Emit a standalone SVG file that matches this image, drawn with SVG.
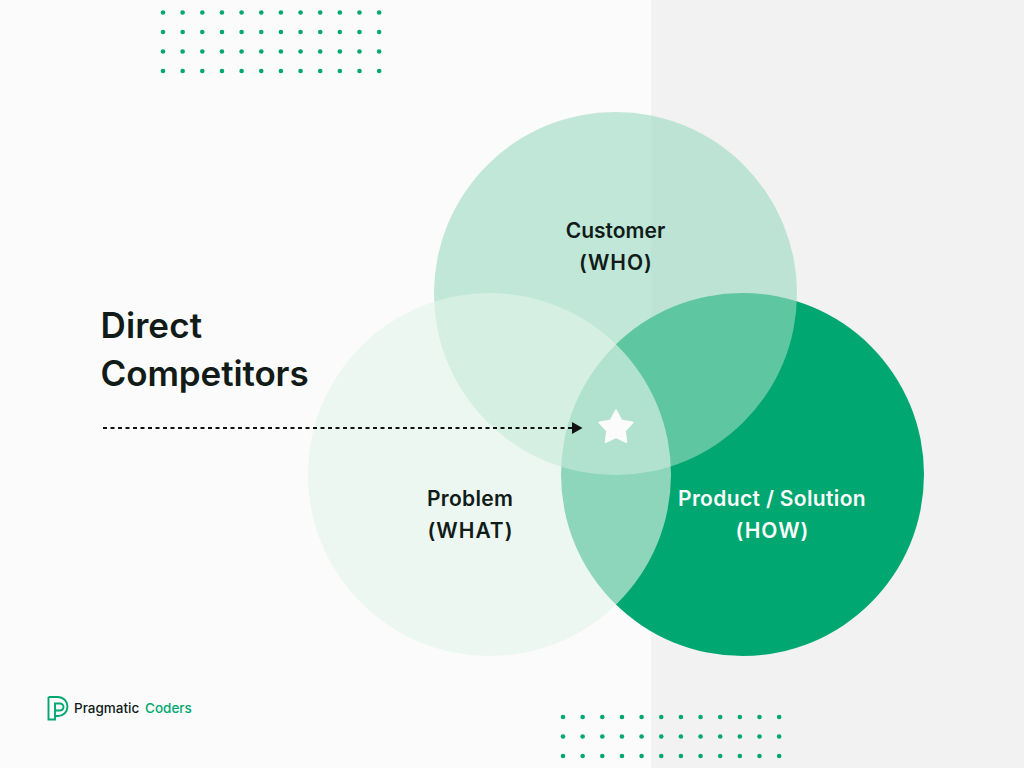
<svg xmlns="http://www.w3.org/2000/svg" xmlns:xlink="http://www.w3.org/1999/xlink" width="1024" height="768" viewBox="0 0 1024 768">
<style>
text{font-family:"Inter","Liberation Sans",sans-serif;}
.l{font-size:21px;font-weight:600;fill:#111c18;text-anchor:middle}
.p{letter-spacing:1px}
.w{fill:#fbfbfb}
.t{font-size:35px;font-weight:600;fill:#111c18}
.logo{font-size:13.5px;font-weight:500}
</style>
<defs>
<marker id="ah" markerUnits="userSpaceOnUse" markerWidth="11" markerHeight="12" refX="0" refY="6" orient="auto"><path d="M0 0L10.5 6L0 12Z" fill="#111"/></marker>
<g id="dotrow" fill="#00a771"><circle cx="0" r="2.3"/><circle cx="19.65" r="2.3"/><circle cx="39.3" r="2.3"/><circle cx="58.95" r="2.3"/><circle cx="78.6" r="2.3"/><circle cx="98.25" r="2.3"/><circle cx="117.9" r="2.3"/><circle cx="137.55" r="2.3"/><circle cx="157.2" r="2.3"/><circle cx="176.85" r="2.3"/><circle cx="196.5" r="2.3"/><circle cx="216.15" r="2.3"/></g>
</defs>
<rect width="1024" height="768" fill="#fbfbfb"/>
<rect x="651" width="373" height="768" fill="#f2f2f2"/>
<g id="dots-top">
<use xlink:href="#dotrow" x="163" y="12.5"/><use xlink:href="#dotrow" x="163" y="32"/><use xlink:href="#dotrow" x="163" y="51.5"/><use xlink:href="#dotrow" x="163" y="71"/>
</g>
<g id="dots-bottom">
<use xlink:href="#dotrow" x="563" y="717"/><use xlink:href="#dotrow" x="563" y="736.5"/><use xlink:href="#dotrow" x="563" y="756"/>
</g>
<g id="node-how"><circle cx="742.5" cy="474.5" r="181.5" fill="#00a771"/></g>
<g id="node-who"><circle cx="615.5" cy="293.5" r="181.5" fill="#9bd9c1" fill-opacity=".614"/></g>
<g id="node-what"><circle cx="489.5" cy="474.5" r="181.5" fill="#e3f3ea" fill-opacity=".62"/></g>
<g id="connectors"><path d="M103 428H572" fill="none" stroke="#111" stroke-width="1.8" stroke-dasharray="4 3.5" marker-end="url(#ah)"/></g>
<g id="star"><path d="M616 410.500L621.300 420.500L632.500 422.500L624.800 430.800L626.300 442L616 437.200L605.700 442L607.200 430.800L599.500 422.500L610.700 420.500Z" fill="#fbfbfb" stroke="#fbfbfb" stroke-width="2" stroke-linejoin="round"/></g>
<g id="title"><text class="t" x="100.500" y="338" letter-spacing=".1">Direct</text><text class="t" x="100.500" y="386" letter-spacing="-.1">Competitors</text></g>
<g id="label-who"><text class="l" x="615.500" y="238">Customer</text><text class="l p" x="616" y="270">(WHO)</text></g>
<g id="label-what"><text class="l" x="470" y="506" letter-spacing=".3">Problem</text><text class="l p" x="470.500" y="538">(WHAT)</text></g>
<g id="label-how"><text class="l w" x="772" y="506" letter-spacing=".35">Product / Solution</text><text class="l w p" x="772.500" y="538">(HOW)</text></g>
<g id="logo">
<path d="M48.500 697H58A9.500 9.500 0 0 1 58 716H55.500M48.500 697V719.500H55V703.500H60A3.500 3.500 0 0 1 60 710.500H55" fill="none" stroke="#00a771" stroke-width="1.900"/>
<text class="logo" y="713" fill="#111c18"><tspan x="74">Pragmatic</tspan><tspan x="145" fill="#00a771">Coders</tspan></text>
</g>
</svg>
